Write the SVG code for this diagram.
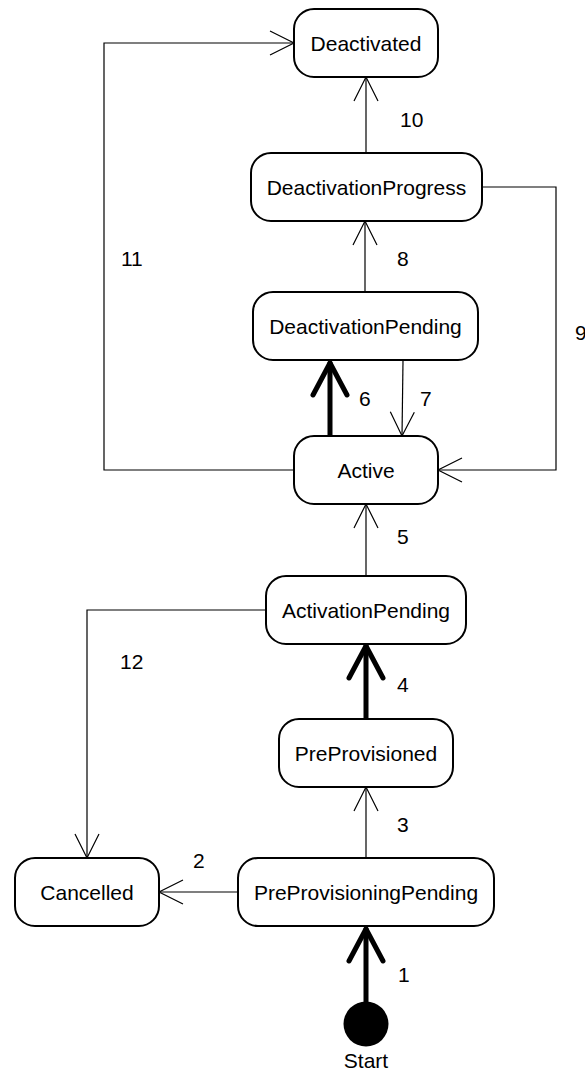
<svg xmlns="http://www.w3.org/2000/svg" width="585" height="1072" viewBox="0 0 585 1072">
<style>
.node rect{fill:#fff;stroke:#000;stroke-width:2}
text{font-family:"Liberation Sans",Arial,sans-serif;font-size:21px;fill:#000}
.nt{text-anchor:middle}
.e{fill:none;stroke:#000;stroke-width:1.2}
.t{fill:none;stroke:#000;stroke-width:5;stroke-linecap:round}
</style>
<defs>
<marker id="a" markerUnits="userSpaceOnUse" viewBox="-26 -14 28 28" markerWidth="28" markerHeight="28" refX="0" refY="0" orient="auto">
<path d="M-24,-12 L0,0 L-24,12" fill="none" stroke="#000" stroke-width="1.2"/>
</marker>
<marker id="b" markerUnits="userSpaceOnUse" viewBox="-36 -21 40 42" markerWidth="40" markerHeight="42" refX="0" refY="0" orient="auto">
<path d="M-32,-17 L0,0 L-32,17" fill="none" stroke="#000" stroke-width="5" stroke-linecap="round" stroke-linejoin="round"/>
</marker>
</defs>
<rect width="585" height="1072" fill="#fff"/>
<g id="connectors">
<path class="t" d="M366,1002 L366,929" marker-end="url(#b)"/>
<path class="e" d="M238,892 L159,892" marker-end="url(#a)"/>
<path class="e" d="M366,858 L366,787" marker-end="url(#a)"/>
<path class="t" d="M366,719 L366,646" marker-end="url(#b)"/>
<path class="e" d="M366,576 L366,504" marker-end="url(#a)"/>
<path class="t" d="M330,436 L330,363" marker-end="url(#b)"/>
<path class="e" d="M403,361 L402,436" marker-end="url(#a)"/>
<path class="e" d="M365,292 L365,221" marker-end="url(#a)"/>
<path class="e" d="M482,187 L556,187 L556,470 L438,470" marker-end="url(#a)"/>
<path class="e" d="M366,153 L366,77" marker-end="url(#a)"/>
<path class="e" d="M294,470 L104,470 L104,43 L294,43" marker-end="url(#a)"/>
<path class="e" d="M266,610 L87,610 L87,858" marker-end="url(#a)"/>
<text x="398" y="982">1</text>
<text x="193" y="868">2</text>
<text x="397" y="832">3</text>
<text x="397" y="692">4</text>
<text x="397" y="544">5</text>
<text x="359" y="406">6</text>
<text x="420" y="406">7</text>
<text x="397" y="266">8</text>
<text x="575" y="340">9</text>
<text x="400" y="127">10</text>
<text x="121" y="266">11</text>
<text x="120" y="669">12</text>
</g>
<g id="Deactivated" class="node"><rect x="294" y="9" width="144" height="68" rx="20"/><text class="nt" x="366" y="51">Deactivated</text></g>
<g id="DeactivationProgress" class="node"><rect x="251" y="153" width="231" height="68" rx="20"/><text class="nt" x="366.5" y="195">DeactivationProgress</text></g>
<g id="DeactivationPending" class="node"><rect x="253" y="292" width="225" height="68" rx="20"/><text class="nt" x="365.5" y="334">DeactivationPending</text></g>
<g id="Active" class="node"><rect x="294" y="436" width="144" height="68" rx="20"/><text class="nt" x="366" y="478">Active</text></g>
<g id="ActivationPending" class="node"><rect x="266" y="576" width="200" height="68" rx="20"/><text class="nt" x="366" y="618">ActivationPending</text></g>
<g id="PreProvisioned" class="node"><rect x="279" y="719" width="174" height="68" rx="20"/><text class="nt" x="366" y="761">PreProvisioned</text></g>
<g id="PreProvisioningPending" class="node"><rect x="238" y="858" width="256" height="68" rx="20"/><text class="nt" x="366" y="900">PreProvisioningPending</text></g>
<g id="Cancelled" class="node"><rect x="15" y="858" width="144" height="68" rx="20"/><text class="nt" x="87" y="900">Cancelled</text></g>
<g id="Start"><circle cx="366" cy="1024" r="22.5" fill="#000"/><text class="nt" x="366" y="1068">Start</text></g>
</svg>
